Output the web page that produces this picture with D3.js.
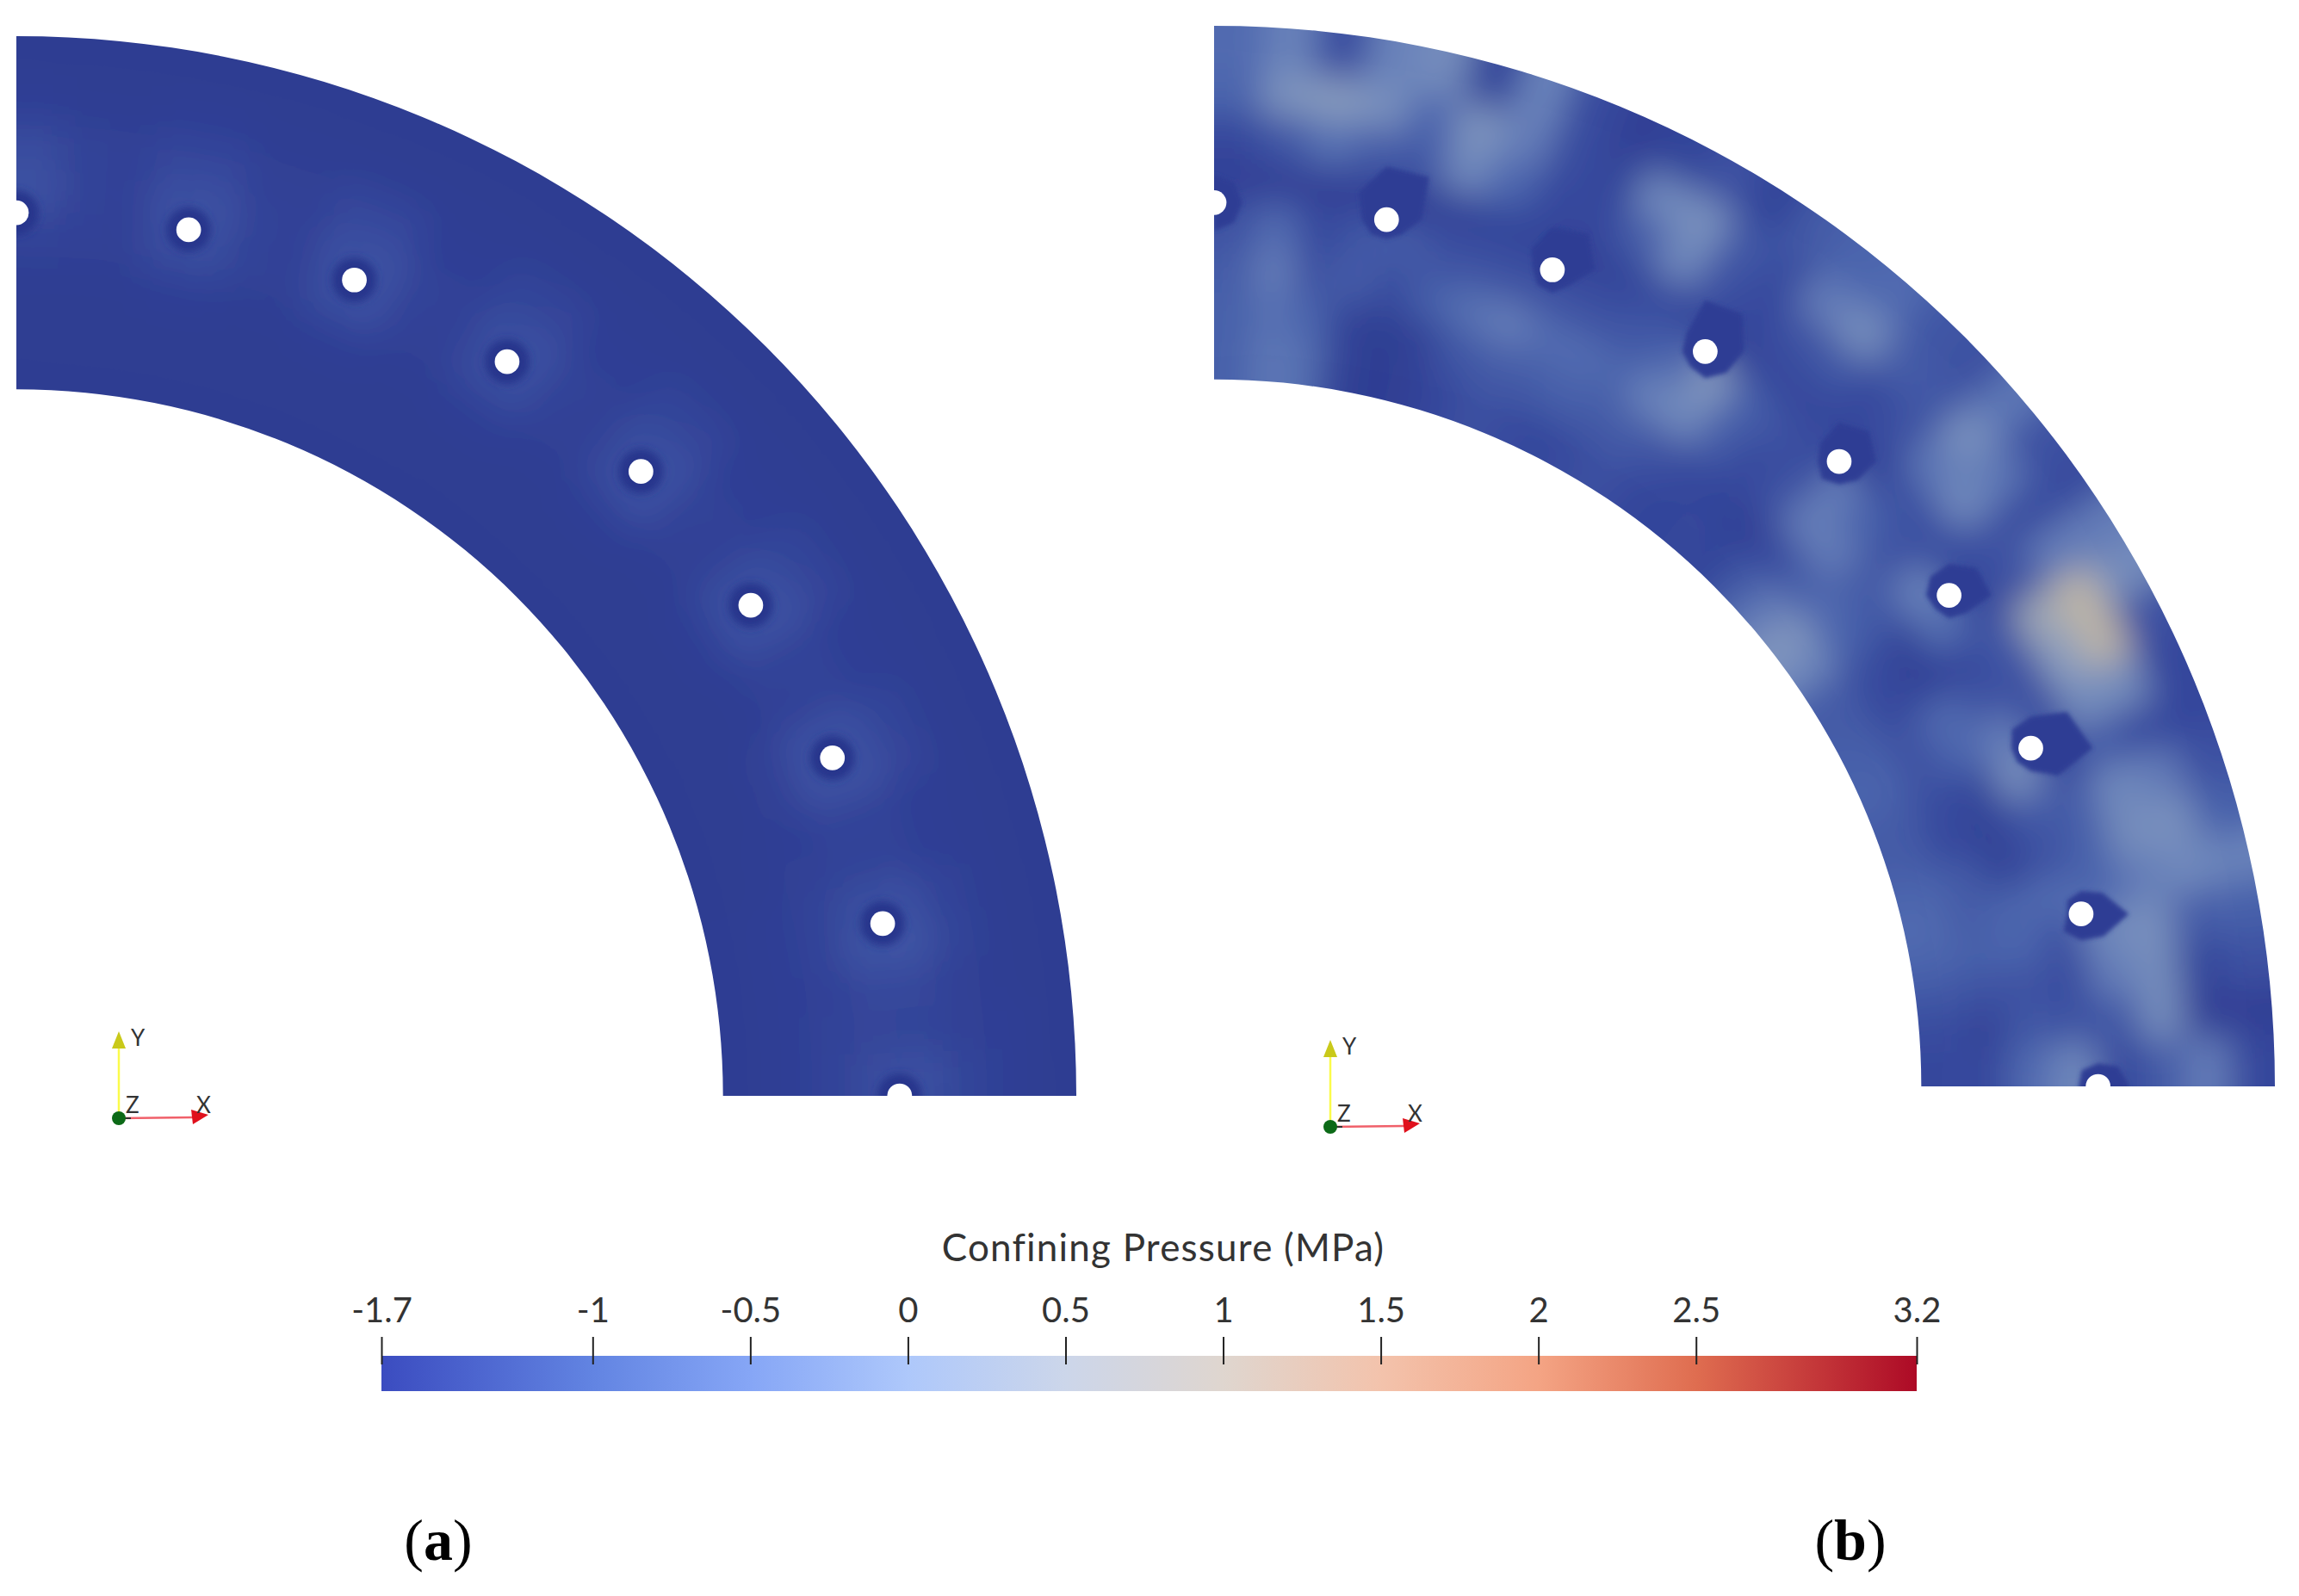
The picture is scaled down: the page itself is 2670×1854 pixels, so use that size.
<!DOCTYPE html>
<html>
<head>
<meta charset="utf-8">
<script src="https://cdn.jsdelivr.net/npm/d3@7"></script>
<style>
  body { margin: 0; background: #fff; }
  svg { display: block; }
</style>
</head>
<body>
<svg id="chart" width="2670" height="1854"></svg>
<script>
// pressure (MPa), rows go inner edge -> outer edge,
// columns go clockwise from the left cut to the bottom cut
const pressureA = [
  [-1.7,-1.7,-1.7,-1.7,-1.7,-1.7,-1.7,-1.7,-1.7,-1.7,-1.7,-1.7,-1.7,-1.7,-1.7,-1.7,-1.7,-1.7,-1.7,-1.7,-1.7,-1.7,-1.7,-1.7,-1.7,-1.7,-1.7,-1.68,-1.68,-1.68,-1.68,-1.68],
  [-1.7,-1.7,-1.7,-1.7,-1.7,-1.7,-1.7,-1.7,-1.7,-1.7,-1.7,-1.7,-1.7,-1.7,-1.7,-1.7,-1.7,-1.7,-1.7,-1.7,-1.7,-1.7,-1.7,-1.7,-1.7,-1.68,-1.68,-1.66,-1.66,-1.66,-1.66,-1.66],
  [-1.68,-1.68,-1.68,-1.66,-1.66,-1.68,-1.68,-1.66,-1.66,-1.68,-1.68,-1.66,-1.66,-1.68,-1.68,-1.66,-1.66,-1.68,-1.68,-1.66,-1.66,-1.68,-1.68,-1.64,-1.64,-1.66,-1.65,-1.6,-1.58,-1.62,-1.6,-1.58],
  [-1.58,-1.62,-1.64,-1.46,-1.44,-1.6,-1.64,-1.44,-1.42,-1.62,-1.65,-1.46,-1.44,-1.62,-1.65,-1.46,-1.42,-1.62,-1.64,-1.44,-1.42,-1.6,-1.62,-1.42,-1.4,-1.58,-1.6,-1.44,-1.38,-1.52,-1.54,-1.46],
  [-1.4,-1.58,-1.62,-1.42,-1.4,-1.58,-1.62,-1.42,-1.4,-1.58,-1.62,-1.44,-1.42,-1.6,-1.64,-1.44,-1.42,-1.6,-1.62,-1.44,-1.4,-1.58,-1.6,-1.42,-1.4,-1.58,-1.6,-1.42,-1.36,-1.52,-1.56,-1.42],
  [-1.46,-1.6,-1.62,-1.52,-1.5,-1.64,-1.64,-1.52,-1.5,-1.66,-1.66,-1.56,-1.54,-1.66,-1.66,-1.56,-1.54,-1.66,-1.66,-1.56,-1.54,-1.66,-1.66,-1.56,-1.54,-1.66,-1.66,-1.58,-1.56,-1.64,-1.64,-1.56],
  [-1.66,-1.68,-1.68,-1.66,-1.66,-1.68,-1.68,-1.68,-1.68,-1.68,-1.68,-1.68,-1.68,-1.68,-1.68,-1.68,-1.68,-1.68,-1.68,-1.68,-1.68,-1.68,-1.68,-1.68,-1.68,-1.68,-1.68,-1.68,-1.68,-1.68,-1.66,-1.66],
  [-1.7,-1.7,-1.7,-1.7,-1.7,-1.7,-1.7,-1.7,-1.7,-1.7,-1.7,-1.7,-1.7,-1.7,-1.7,-1.7,-1.7,-1.7,-1.7,-1.7,-1.7,-1.7,-1.7,-1.7,-1.7,-1.7,-1.7,-1.7,-1.7,-1.7,-1.7,-1.7]
];

const pressureB = [
  [-1.25,-1.05,-1.1,-1.6,-1.7,-1.65,-1.5,-1.4,-1.45,-1.5,-1.45,-1.4,-1.5,-1.55,-1.5,-1.55,-1.3,-1.0,-0.7,-0.9,-1.3,-1.3,-1.25,-1.2,-1.3,-1.3,-1.2,-1.15,-1.2,-1.35,-1.45,-1.5],
  [-1.25,-1.1,-1.2,-1.6,-1.7,-1.6,-1.35,-1.3,-1.3,-1.25,-1.3,-1.3,-1.4,-1.5,-1.55,-1.65,-1.5,-1.3,-1.15,-1.25,-1.45,-1.5,-1.4,-1.4,-1.45,-1.5,-1.3,-1.3,-1.25,-1.4,-1.6,-1.5],
  [-1.3,-1.0,-1.4,-1.3,-1.45,-1.25,-1.1,-1.0,-1.15,-1.15,-1.2,-0.95,-0.9,-1.3,-1.5,-1.4,-1.0,-1.0,-1.3,-1.35,-1.6,-1.6,-1.15,-1.2,-1.55,-1.6,-1.6,-1.2,-1.2,-1.4,-1.35,-1.15],
  [-1.4,-1.15,-1.5,-1.35,-1.3,-1.4,-1.4,-1.4,-1.4,-1.4,-1.35,-1.2,-0.7,-1.25,-1.4,-1.45,-1.0,-1.25,-1.4,-0.95,-1.1,-1.5,-1.4,-1.0,-0.8,-1.35,-1.4,-1.15,-1.4,-1.45,-1.4,-0.9],
  [-1.62,-1.62,-1.62,-1.62,-1.65,-1.58,-1.55,-1.55,-1.62,-1.55,-1.45,-1.52,-1.58,-1.52,-1.52,-1.52,-1.58,-1.42,-1.42,-1.48,-1.52,-1.35,-1.4,-1.45,-1.5,-1.3,-1.25,-1.2,-0.9,-1.0,-1.35,-1.5],
  [-1.5,-1.35,-1.1,-1.3,-1.35,-0.9,-1.2,-1.5,-1.5,-1.3,-0.9,-1.4,-1.5,-1.4,-1.35,-1.5,-1.4,-1.05,-0.9,-1.4,-1.4,-0.45,-0.6,-0.85,-1.3,-0.9,-0.85,-1.0,-0.8,-0.85,-0.85,-1.3],
  [-1.2,-0.75,-0.65,-0.8,-1.2,-0.75,-1.0,-1.45,-1.55,-0.9,-0.8,-1.35,-1.45,-1.0,-0.85,-1.3,-1.35,-0.8,-1.05,-1.45,-1.0,0.1,-0.2,-0.85,-1.45,-1.0,-0.8,-0.9,-1.3,-1.55,-1.65,-1.0],
  [-1.15,-0.95,-1.45,-0.95,-0.85,-1.55,-0.95,-1.45,-1.65,-1.55,-1.4,-1.55,-1.3,-1.2,-1.15,-1.35,-1.4,-1.05,-1.4,-1.45,-1.0,-0.85,-1.4,-1.5,-1.5,-1.4,-1.25,-0.95,-1.25,-1.4,-1.65,-1.5]
];

// darker mesh patches round each hole in panel b, radius in cm towards
// E, NE, N, NW, W, SW, S, SE
const patchB = [
  [8, 8, 8, 8, 0, 0, 8, 8],
  [10, 17, 15, 11, 7, 6, 5.5, 6],
  [12, 14.5, 12, 8.5, 5.5, 6, 6.5, 6.5],
  [11, 15, 14.5, 7.5, 6.5, 6, 7.5, 8.5],
  [10.5, 12, 11, 7.5, 6, 7, 6.5, 7.5],
  [12, 11, 9, 7.5, 6.5, 5.5, 6.5, 7],
  [17.5, 14.5, 9, 7.5, 5.5, 5.5, 6.5, 11],
  [13.5, 8.5, 6.5, 5.5, 4, 7, 7.5, 9],
  [9, 8, 6.5, 6.5, 5.5, 5, 5, 5]
];

const holeAngles = [0, 11.25, 22.5, 33.75, 45, 56.25, 67.5, 78.75, 90];
const holeRadius = 3.5;
const holeCircle = 250;
const innerRadius = 200;
const outerRadius = 300;

const tickValues = [-1.67, -1, -0.5, 0, 0.5, 1, 1.5, 2, 2.5, 3.2];
const tickLabels = ['-1.7', '-1', '-0.5', '0', '0.5', '1', '1.5', '2', '2.5', '3.2'];
const barStops = [-1.67, -1, -0.5, 0, 0.5, 1, 1.5, 2, 2.5, 3.2];
const barColors = ['#3b4cc0', '#6284e2', '#86a6f6', '#aec8fb', '#ccd6ea', '#dfd6cf', '#f3c3ac', '#f4a484', '#df6d50', '#ad0a26'];

// the rendered field is shaded darker than the bar
const fieldStops = [-1.7, -1.5, -1.2, -0.9, -0.6, -0.2];
const fieldColors = ['#2e3c92', '#35479c', '#4b65ad', '#6f88bc', '#8b9dbe', '#bcb4a6'];

const svg = d3.select('#chart');
const defs = svg.append('defs');

const fieldColor = d3.scaleLinear().domain(fieldStops).range(fieldColors).clamp(true);

function blur(id, sd) {
  defs.append('filter')
    .attr('id', id)
    .attr('filterUnits', 'userSpaceOnUse')
    .attr('x', -3000).attr('y', -3000)
    .attr('width', 7000).attr('height', 7000)
    .append('feGaussianBlur')
    .attr('stdDeviation', sd);
}
blur('fieldBlur', 21);
blur('ringBlur', 5);
blur('patchBlur', 2.5);

function drawPanel(id, cx, cy, outerPx, field, patches) {
  const radius = d3.scaleLinear().domain([0, outerRadius]).range([0, outerPx]);
  const angle = d3.scaleLinear().domain([0, 90]).range([0, Math.PI / 2]);
  const rowBand = d3.scaleBand().domain(d3.range(field.length)).range([radius(innerRadius), radius(outerRadius)]);
  const colBand = d3.scaleBand().domain(d3.range(field[0].length)).range([0, Math.PI / 2]);

  defs.append('clipPath').attr('id', 'clip' + id)
    .append('path')
    .attr('d', d3.arc()({
      innerRadius: radius(innerRadius),
      outerRadius: radius(outerRadius),
      startAngle: 0,
      endAngle: Math.PI / 2
    }));

  const g = svg.append('g').attr('transform', `translate(${cx},${cy})`);
  const clipped = g.append('g').attr('clip-path', `url(#clip${id})`);
  const cells = clipped.append('g').attr('filter', 'url(#fieldBlur)');

  const lastRow = field.length - 1;
  const lastCol = field[0].length - 1;
  const arc = d3.arc();

  // edge cells run past the mesh so the blur does not fade at the boundary
  field.forEach((row, i) => {
    row.forEach((value, j) => {
      cells.append('path')
        .attr('d', arc({
          innerRadius: rowBand(i) - (i === 0 ? 90 : 0),
          outerRadius: rowBand(i) + rowBand.bandwidth() + (i === lastRow ? 90 : 0),
          startAngle: colBand(j) - (j === 0 ? 0.12 : 0),
          endAngle: colBand(j) + colBand.bandwidth() + (j === lastCol ? 0.12 : 0.002)
        }))
        .attr('fill', fieldColor(value));
    });
  });

  const holes = holeAngles.map(a => {
    const t = angle(a);
    return [radius(holeCircle) * Math.sin(t), -radius(holeCircle) * Math.cos(t)];
  });

  if (patches) {
    const patchLine = d3.lineRadial().curve(d3.curveLinearClosed)
      .angle((d, k) => Math.PI / 2 - k * Math.PI / 4)
      .radius(d => radius(d));
    clipped.append('g').selectAll('path')
      .data(patches)
      .join('path')
      .attr('transform', (d, i) => `translate(${holes[i]})`)
      .attr('d', patchLine)
      .attr('fill', '#2f3e94')
      .attr('filter', 'url(#patchBlur)');
  } else {
    clipped.append('g').selectAll('circle')
      .data(holes)
      .join('circle')
      .attr('transform', d => `translate(${d})`)
      .attr('r', radius(holeRadius * 1.8))
      .attr('fill', '#28358c')
      .attr('filter', 'url(#ringBlur)');
  }

  g.append('g').selectAll('circle')
    .data(holes)
    .join('circle')
    .attr('transform', d => `translate(${d})`)
    .attr('r', radius(holeRadius))
    .attr('fill', '#fff');
}

drawPanel('A', 19, 1273, 1231, pressureA, null);
drawPanel('B', 1410, 1262, 1232, pressureB, patchB);

// orientation triad
function drawTriad(x, y) {
  const g = svg.append('g').attr('transform', `translate(${x},${y})`);
  g.append('line').attr('x1', 0).attr('y1', 0).attr('x2', 0).attr('y2', -85)
    .attr('stroke', '#fbfb4a').attr('stroke-width', 2.5);
  g.append('path').attr('d', 'M0,-101L8,-81L-8,-81Z').attr('fill', '#c9c91a');
  g.append('line').attr('x1', 0).attr('y1', 0).attr('x2', 86).attr('y2', -1)
    .attr('stroke', '#f0606a').attr('stroke-width', 2.5);
  g.append('path').attr('d', 'M104,-4L84,-10L86,7Z').attr('fill', '#e0101c');
  g.append('line').attr('x1', 0).attr('y1', 0).attr('x2', 14).attr('y2', 0)
    .attr('stroke', '#333').attr('stroke-width', 2);
  g.append('circle').attr('r', 8).attr('fill', '#0c6a17');
  const labels = [['Y', 14, -84], ['Z', 8, -6], ['X', 90, -6]];
  g.selectAll('text').data(labels).join('text')
    .attr('x', d => d[1]).attr('y', d => d[2])
    .attr('font-family', 'Lato, sans-serif')
    .attr('font-size', 26)
    .attr('fill', '#333')
    .text(d => d[0]);
}
drawTriad(138, 1299);
drawTriad(1545, 1309);

// colour bar
const barX = d3.scaleLinear().domain([-1.67, 3.2]).range([443, 2226]);
const grad = defs.append('linearGradient').attr('id', 'barGrad');
grad.selectAll('stop').data(barStops).join('stop')
  .attr('offset', d => (barX(d) - 443) / (2226 - 443))
  .attr('stop-color', (d, i) => barColors[i]);

svg.append('rect')
  .attr('x', barX.range()[0]).attr('y', 1575)
  .attr('width', barX.range()[1] - barX.range()[0]).attr('height', 41)
  .attr('fill', 'url(#barGrad)');

const axis = svg.append('g')
  .attr('transform', 'translate(0,1585)')
  .call(d3.axisTop(barX)
    .tickValues(tickValues)
    .tickFormat((d, i) => tickLabels[i])
    .tickSize(32)
    .tickPadding(17));
axis.select('.domain').remove();
axis.selectAll('line').attr('stroke', '#222').attr('stroke-width', 2);
axis.selectAll('text')
  .attr('font-family', 'Lato, sans-serif')
  .attr('font-size', 40)
  .attr('fill', '#333');

svg.append('text')
  .attr('x', 1351).attr('y', 1465)
  .attr('text-anchor', 'middle')
  .attr('font-family', 'Lato, sans-serif')
  .attr('font-size', 44)
  .attr('letter-spacing', 1.2)
  .attr('fill', '#333')
  .text('Confining Pressure (MPa)');

// panel letters
[['a', 509], ['b', 2149]].forEach(([letter, x]) => {
  const t = svg.append('text')
    .attr('x', x).attr('y', 1812)
    .attr('text-anchor', 'middle')
    .attr('font-family', '"Liberation Serif", serif')
    .attr('font-size', 68)
    .attr('fill', '#000');
  t.append('tspan').text('(');
  t.append('tspan').attr('font-weight', 'bold').text(letter);
  t.append('tspan').text(')');
});
</script>
</body>
</html>
